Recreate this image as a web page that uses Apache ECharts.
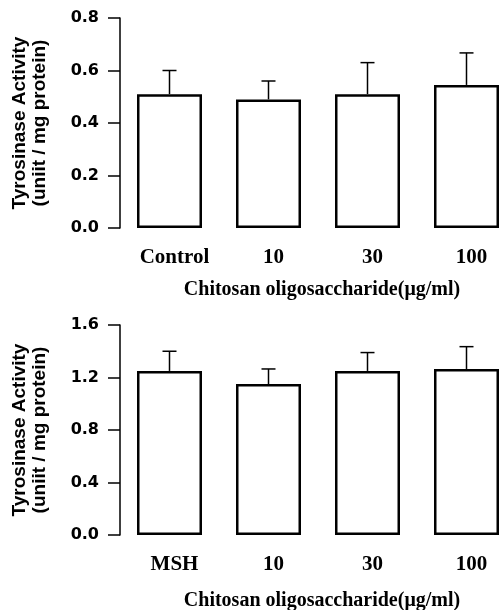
<!DOCTYPE html>
<html>
<head>
<meta charset="utf-8">
<script src="https://cdn.jsdelivr.net/npm/echarts@6/dist/echarts.min.js"></script>
<style>
html,body{margin:0;padding:0;background:#fff;}
#chart{width:501px;height:610px;}
</style>
</head>
<body>
<div id="chart"></div>
<script>
// Data
var categoriesTop = ['Control', '10', '30', '100'];
var valuesTop = [0.51, 0.49, 0.51, 0.545];
var errorsTop = [0.09, 0.07, 0.12, 0.122];

var categoriesBottom = ['MSH', '10', '30', '100'];
var valuesBottom = [1.25, 1.15, 1.25, 1.265];
var errorsBottom = [0.15, 0.115, 0.14, 0.17];

var yTicksTop = { min: 0, max: 0.8, interval: 0.2 };
var yTicksBottom = { min: 0, max: 1.6, interval: 0.4 };

var yName = 'Tyrosinase Activity\n(uniit / mg protein)';
var xName = 'Chitosan oligosaccharide(\u03bcg/ml)';

var chart = echarts.init(document.getElementById('chart'), null, { renderer: 'canvas' });

function errData(vals, errs) {
  return vals.map(function (v, i) { return [i, v, v + errs[i]]; });
}

function errRender(params, api) {
  var x = api.value(0);
  var lo = api.coord([x, api.value(1)]);
  var hi = api.coord([x, api.value(2)]);
  var half = 7;
  var style = { stroke: '#000', lineWidth: 1.5, fill: null };
  return {
    type: 'group',
    children: [
      { type: 'line', shape: { x1: lo[0], y1: lo[1], x2: hi[0], y2: hi[1] }, style: style },
      { type: 'line', shape: { x1: hi[0] - half, y1: hi[1], x2: hi[0] + half, y2: hi[1] }, style: style }
    ]
  };
}

function xAxisCfg(cats, idx, gap) {
  return {
    type: 'category',
    gridIndex: idx,
    data: cats,
    boundaryGap: true,
    axisLine: { show: false },
    axisTick: { show: false },
    axisLabel: {
      margin: 19,
      fontFamily: 'Liberation Serif',
      fontWeight: 'bold',
      fontSize: 21,
      color: '#000',
      padding: [0, 0, 0, 10]
    },
    name: xName,
    nameLocation: 'middle',
    nameGap: gap,
    nameTextStyle: {
      fontFamily: 'Liberation Serif',
      fontWeight: 'bold',
      fontSize: 20,
      color: '#000',
      padding: [0, 0, 0, 8]
    }
  };
}

function yAxisCfg(t, idx) {
  return {
    type: 'value',
    gridIndex: idx,
    min: t.min,
    max: t.max,
    interval: t.interval,
    axisLine: { show: true, lineStyle: { color: '#000', width: 1.5 } },
    axisTick: { show: true, inside: false, length: 12, lineStyle: { color: '#000', width: 1.5 } },
    splitLine: { show: false },
    axisLabel: {
      margin: 21,
      fontFamily: 'DejaVu Sans',
      fontWeight: 'bold',
      fontSize: 16,
      color: '#000',
      formatter: function (v) { return v.toFixed(1); }
    },
    name: yName,
    nameLocation: 'middle',
    nameRotate: 90,
    nameGap: 70,
    nameTextStyle: {
      fontFamily: 'Liberation Sans',
      fontWeight: 'bold',
      fontSize: 19,
      lineHeight: 20,
      color: '#000',
      align: 'center'
    }
  };
}

var barStyle = { color: '#fff', borderColor: '#000', borderWidth: 2.5 };

var option = {
  backgroundColor: '#fff',
  animation: false,
  grid: [
    { left: 120, top: 18, width: 396, height: 210, outerBoundsMode: 'none', containLabel: false },
    { left: 120, top: 325, width: 396, height: 210, outerBoundsMode: 'none', containLabel: false }
  ],
  xAxis: [xAxisCfg(categoriesTop, 0, 52), xAxisCfg(categoriesBottom, 1, 56)],
  yAxis: [yAxisCfg(yTicksTop, 0), yAxisCfg(yTicksBottom, 1)],
  series: [
    { type: 'bar', xAxisIndex: 0, yAxisIndex: 0, data: valuesTop, barWidth: 65, itemStyle: barStyle, z: 2 },
    { type: 'custom', xAxisIndex: 0, yAxisIndex: 0, data: errData(valuesTop, errorsTop), renderItem: errRender, z: 1 },
    { type: 'bar', xAxisIndex: 1, yAxisIndex: 1, data: valuesBottom, barWidth: 65, itemStyle: barStyle, z: 2 },
    { type: 'custom', xAxisIndex: 1, yAxisIndex: 1, data: errData(valuesBottom, errorsBottom), renderItem: errRender, z: 1 }
  ]
};
chart.setOption(option);
</script>
</body>
</html>
